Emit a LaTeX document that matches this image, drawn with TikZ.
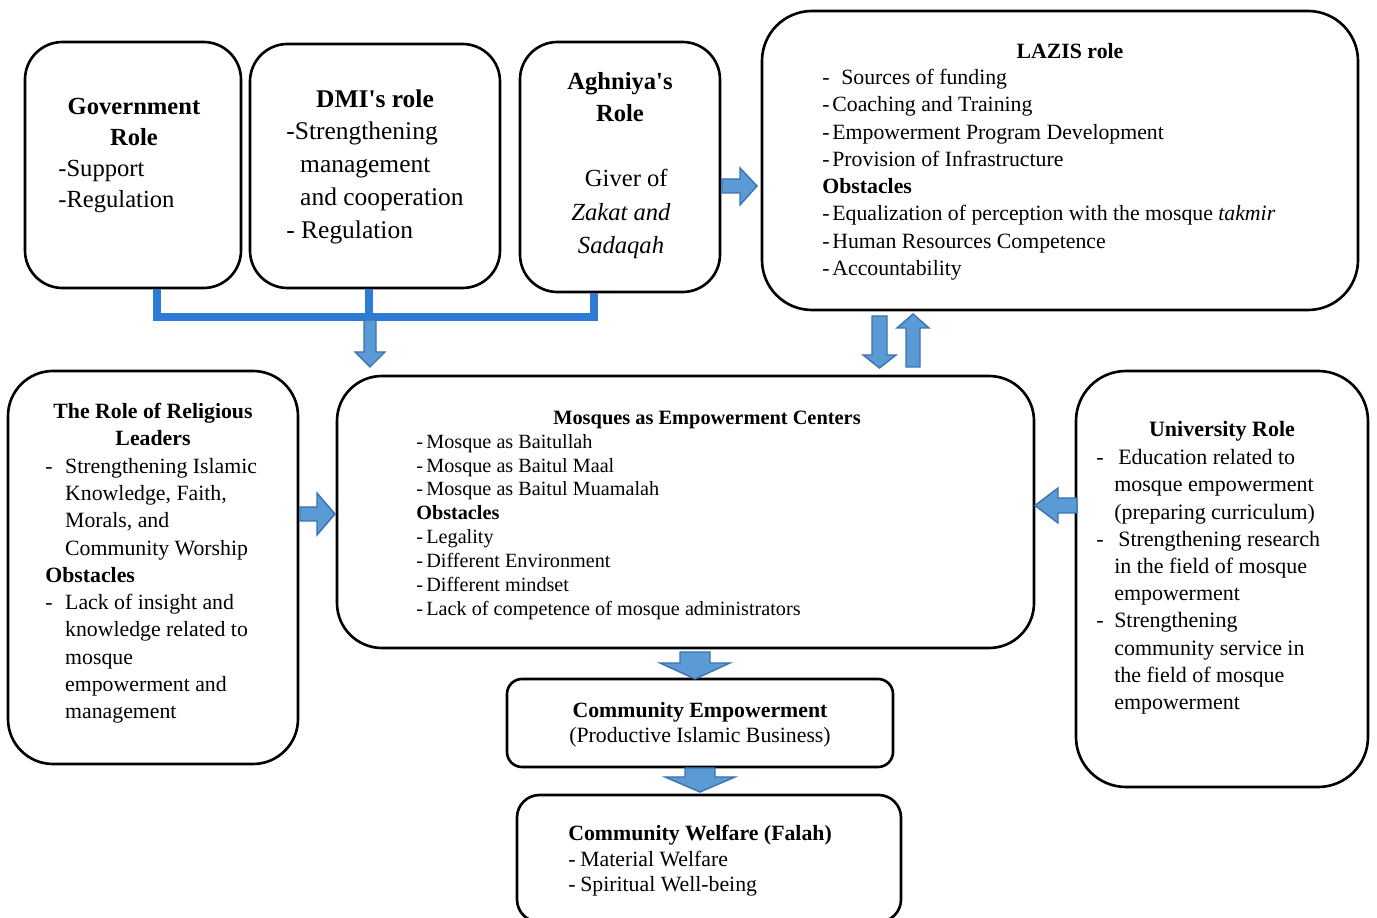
\documentclass[tikz,border=0pt]{standalone}
\usepackage{fontspec}
\setmainfont{Liberation Serif}
\usetikzlibrary{fit}
\definecolor{lineblue}{HTML}{2E7BD6}
\definecolor{arrfill}{HTML}{5B9BD5}
\definecolor{arrdraw}{HTML}{3A73B0}
\newcommand\fsz[2]{\fontsize{#1}{#2}\selectfont}
\newcommand\dashin[1]{\makebox[#1][l]{-}}
\newcommand\indin[1]{\hspace*{#1}}
\begin{document}
\begin{tikzpicture}[x=0.02cm,y=-0.02cm,
  box/.style={draw=black, line width=1.5pt, inner sep=0pt, rounded corners=#1},
  box/.default=0.7cm,
  txt/.style={inner sep=0pt, align=left, anchor=north west},
  head/.style={inner sep=0pt, align=center, anchor=north},
  busline/.style={draw=lineblue, line width=4.5pt, line join=miter},
  blockarrow/.style={fill=arrfill, draw=arrdraw, line width=0.8pt, line join=miter}]
\useasboundingbox (0,0) rectangle (1377,918);

% boxes
\node[box=0.75cm, fit={(25,42) (241,288)}] (gov) {};
\node[box=0.75cm, fit={(250,44) (500,288)}] (dmi) {};
\node[box=0.75cm, fit={(520,42) (720,292)}] (agh) {};
\node[box=1cm, fit={(762,11) (1358,310)}] (lazis) {};
\node[box=0.9cm, fit={(8,371) (298,764)}] (rel) {};
\node[box=0.9cm, fit={(337,376) (1034,648)}] (mos) {};
\node[box=1cm, fit={(1076,371) (1368,787)}] (uni) {};
\node[box=0.3cm, fit={(507,679) (893,767)}] (ce) {};
\node[box=0.45cm, fit={(517,795) (901,922)}] (cw) {};

% Government
\node[head, font={\fsz{14pt}{17.6pt}\bfseries}] (govh) at (134,98) {Government\\Role};
\node[txt, font={\fsz{14pt}{17.6pt}}] (govt) at (58,160) {-Support\\-Regulation};

% DMI
\node[head, font={\fsz{14.5pt}{18.9pt}\bfseries}] (dmih) at (375,89) {DMI\textquotesingle s role};
\node[txt, font={\fsz{14.5pt}{18.9pt}}] (dmit) at (286,121) {-Strengthening\\\indin{7.9pt}management\\\indin{7.9pt}and cooperation\\- Regulation};

% Aghniya
\node[head, font={\fsz{14pt}{18.1pt}\bfseries}] (aghh) at (620,72) {Aghniya\textquotesingle s\\Role};
\node[head, font={\fsz{14pt}{19pt}}] (aght) at (621,169) {\hspace*{6pt}Giver of\\\textit{Zakat and}\\\textit{Sadaqah}};

% LAZIS
\node[head, font={\fsz{12.4pt}{15.5pt}\bfseries}] (lazh) at (1070,43) {LAZIS role};
\node[txt, font={\fsz{12.4pt}{15.5pt}}] (lazt) at (822,69) {\dashin{10.8pt}Sources of funding\\
\dashin{5.7pt}Coaching and Training\\
\dashin{5.7pt}Empowerment Program Development\\
\dashin{5.7pt}Provision of Infrastructure\\
\textbf{Obstacles}\\
\dashin{5.7pt}Equalization of perception with the mosque \textit{takmir}\\
\dashin{5.7pt}Human Resources Competence\\
\dashin{5.7pt}Accountability};

% Religious leaders
\node[head, font={\fsz{12.4pt}{15.5pt}\bfseries}] (relh) at (153,403) {The Role of Religious\\Leaders};
\node[txt, font={\fsz{12.4pt}{15.5pt}}] (relt) at (45,458) {\dashin{11.3pt}Strengthening Islamic\\
\indin{11.3pt}Knowledge, Faith,\\
\indin{11.3pt}Morals, and\\
\indin{11.3pt}Community Worship\\
\textbf{Obstacles}\\
\dashin{11.3pt}Lack of insight and\\
\indin{11.3pt}knowledge related to\\
\indin{11.3pt}mosque\\
\indin{11.3pt}empowerment and\\
\indin{11.3pt}management};

% Mosques
\node[head, font={\fsz{11.6pt}{13.55pt}\bfseries}] (mosh) at (707,411) {Mosques as Empowerment Centers};
\node[txt, font={\fsz{11.5pt}{13.55pt}}] (most) at (416,434) {\dashin{5.7pt}Mosque as Baitullah\\
\dashin{5.7pt}Mosque as Baitul Maal\\
\dashin{5.7pt}Mosque as Baitul Muamalah\\
\textbf{Obstacles}\\
\dashin{5.7pt}Legality\\
\dashin{5.7pt}Different Environment\\
\dashin{5.7pt}Different mindset\\
\dashin{5.7pt}Lack of competence of mosque administrators};

% University
\node[head, font={\fsz{12.5pt}{15.5pt}\bfseries}] (unih) at (1222,421) {University Role};
\node[txt, font={\fsz{12.5pt}{15.5pt}}] (unit) at (1096,449) {\dashin{12.5pt}Education related to\\
\indin{10.2pt}mosque empowerment\\
\indin{10.2pt}(preparing curriculum)\\
\dashin{12.5pt}Strengthening research\\
\indin{10.2pt}in the field of mosque\\
\indin{10.2pt}empowerment\\
\dashin{10.2pt}Strengthening\\
\indin{10.2pt}community service in\\
\indin{10.2pt}the field of mosque\\
\indin{10.2pt}empowerment};

% Community empowerment
\node[head, font={\fsz{12.4pt}{14.2pt}}] (cet) at (700,702) {\textbf{Community Empowerment}\\(Productive Islamic Business)};

% Community welfare
\node[txt, font={\fsz{12.4pt}{14.5pt}}] (cwt) at (568,825) {\textbf{Community Welfare (Falah)}\\
\dashin{6.8pt}Material Welfare\\
\dashin{6.8pt}Spiritual Well-being};

% bus connector from the three top boxes
\draw[busline] (gov.south -| 157,0) -- (157,317) -- (594,317) -- (agh.south -| 594,0);
\draw[busline] (dmi.south -| 369,0) -- (369,317);

% block arrows
\draw[blockarrow] (364,320) -- (376,320) -- (376,352) -- (385,352) -- (370,367) -- (355,352) -- (364,352) -- cycle;
\draw[blockarrow] (722,179) -- (740,179) -- (740,168) -- (757,186) -- (740,205) -- (740,193) -- (722,193) -- cycle;
\draw[blockarrow] (872,316) -- (887,316) -- (887,355) -- (896,355) -- (879.5,368) -- (863,355) -- (872,355) -- cycle;
\draw[blockarrow] (906,367) -- (920,367) -- (920,328) -- (929,328) -- (913,314) -- (897,328) -- (906,328) -- cycle;
\draw[blockarrow] (300,507) -- (317,507) -- (317,493) -- (335,514) -- (317,535) -- (317,521) -- (300,521) -- cycle;
\draw[blockarrow] (1077,498) -- (1058,498) -- (1058,488) -- (1035,505.5) -- (1058,523) -- (1058,513) -- (1077,513) -- cycle;
\draw[blockarrow] (680,652) -- (710,652) -- (710,663) -- (730,663) -- (695,679) -- (660,663) -- (680,663) -- cycle;
\draw[blockarrow] (685,768) -- (715,768) -- (715,777) -- (735,777) -- (700,792) -- (665,777) -- (685,777) -- cycle;
\end{tikzpicture}
\end{document}
